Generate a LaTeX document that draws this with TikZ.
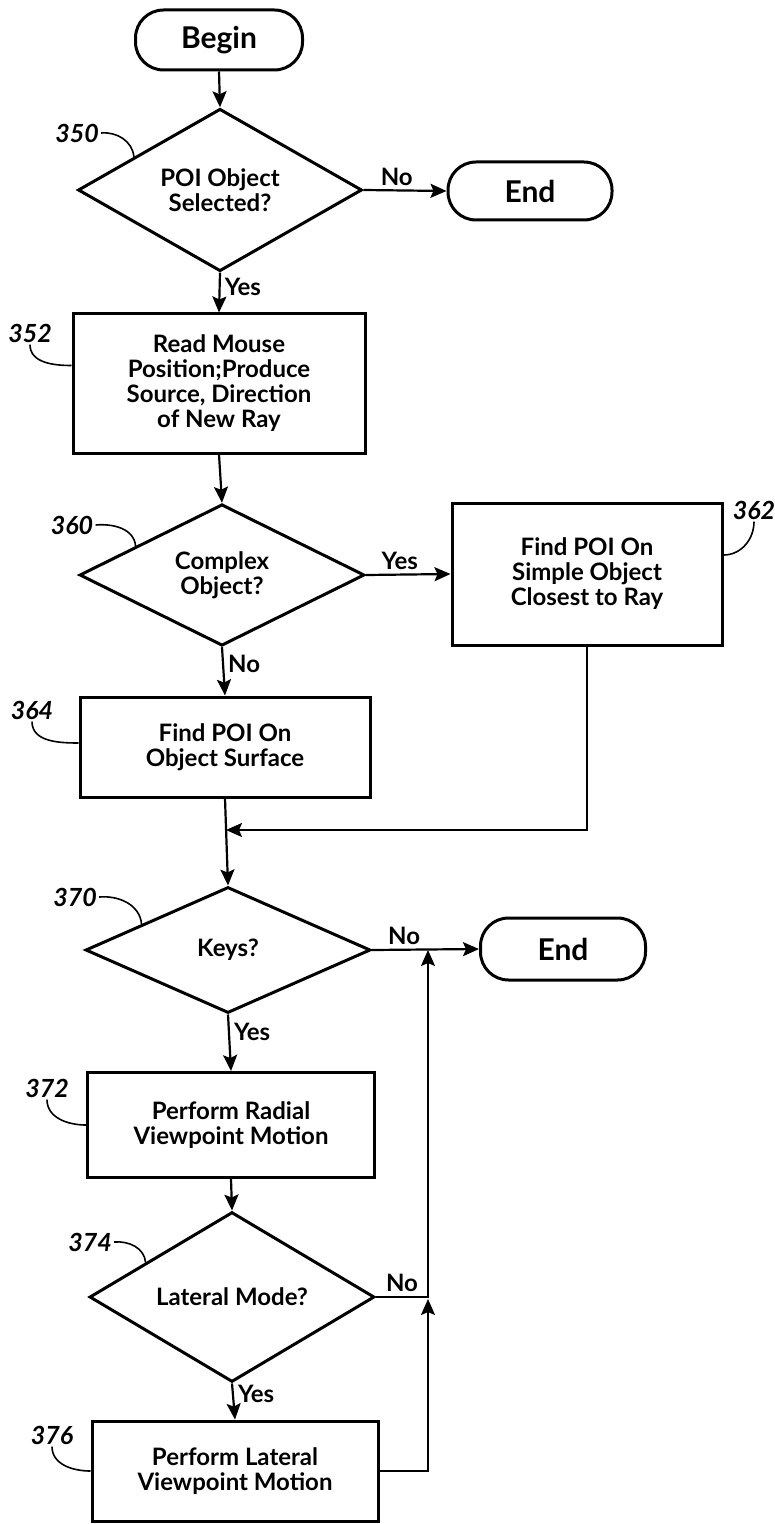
\documentclass[tikz,border=0pt]{standalone}
\usepackage{fontspec}
\setmainfont{Lato}
\usetikzlibrary{shapes.geometric,arrows.meta,calc}

\begin{document}
\begin{tikzpicture}[x=0.5pt,y=-0.5pt,
  txt/.style={font=\bfseries\fontsize{12}{12.5}\selectfont},
  box/.style={txt,draw,line width=1.5pt,rectangle,align=center,inner sep=0pt},
  dec/.style={txt,draw,line width=1.5pt,diamond,align=center,inner sep=0pt},
  term/.style={draw,line width=1.5pt,rectangle,rounded corners=14pt,inner sep=0pt,
    font=\bfseries\fontsize{15}{16}\selectfont},
  num/.style={font=\bfseries\itshape\fontsize{12.5}{13}\selectfont,inner sep=1pt},
  arr/.style={line width=1.1pt,-{Stealth[length=8pt,width=7pt,inset=1.5pt]}},
  lead/.style={line width=.8pt},
  yn/.style={txt,inner sep=2pt}]
\useasboundingbox (0,0) rectangle (775,1524);

% terminals
\node[term,minimum width=83.5pt,minimum height=30pt] (begin) at (219,40) {Begin};
\node[term,minimum width=82pt,minimum height=29pt] (end1) at (530,191) {End};
\node[term,minimum width=82.5pt,minimum height=31pt] (end2) at (563,949) {End};

% decisions
\node[dec,minimum width=142pt,minimum height=62pt] (d350) at (220,190) {POI Object\\Selected?};
\node[dec,minimum width=142.5pt,minimum height=63pt] (d360) at (222,575) {Complex\\Object?};
\node[dec,minimum width=142.5pt,minimum height=63pt] (d370) at (228,950) {Keys?};
\node[dec,minimum width=142.5pt,minimum height=62.5pt] (d374) at (232,1297) {Lateral Mode?};

% process boxes
\node[box,minimum width=146pt,minimum height=69.5pt] (b352) at (219,383.5)
  {Read Mouse\\Position;Produce\\Source, Direction\\of New Ray};
\node[box,minimum width=135pt,minimum height=71pt] (b362) at (587,574)
  {Find POI On\\Simple Object\\Closest to Ray};
\node[box,minimum width=145pt,minimum height=50pt] (b364) at (225,747)
  {Find POI On\\Object Surface};
\node[box,minimum width=143.5pt,minimum height=52.5pt] (b372) at (231,1125)
  {Perform Radial\\Viewpoint Motion};
\node[box,minimum width=143pt,minimum height=50pt] (b376) at (235,1471)
  {Perform Lateral\\Viewpoint Motion};

% reference numerals
\node[num] (l350) at (77,133) {350};
\node[num] (l352) at (30,333) {352};
\node[num] (l360) at (72,525) {360};
\node[num] (l362) at (754,510) {362};
\node[num] (l364) at (32,710) {364};
\node[num] (l370) at (75,897) {370};
\node[num] (l372) at (47,1088) {372};
\node[num] (l374) at (90,1242) {374};
\node[num] (l376) at (52,1435) {376};

\coordinate (m1) at (226,830);
\coordinate (j1) at (428,950);
\coordinate (j2) at (428,1299);

% flow
\draw[arr] (begin.south) -- (d350.north);
\draw[arr] (d350.east) -- node[yn,above,pos=.4] {No} (end1.west);
\draw[arr] (d350.south) -- node[yn,right,pos=.35] {Yes} (b352.north);
\draw[arr] (b352.south) -- (d360.north);
\draw[arr] (d360.east) -- node[yn,above,pos=.4] {Yes} (b362.west);
\draw[arr] (d360.south) -- node[yn,right,pos=.35] {No} (b364.north);
\draw[arr] (b364.south) -- (d370.north);
\draw[arr] (b362.south) |- (m1);
\draw[arr] (d370.east) -- node[yn,above,pos=.3] {No} (end2.west);
\draw[arr] (d370.south) -- node[yn,right,pos=.3] {Yes} (b372.north);
\draw[arr] (b372.south) -- (d374.north);
\draw[arr] (d374.south) -- node[yn,right,pos=.3] {Yes} (b376.north);
\draw[arr] (d374.east) -| node[yn,above,pos=.25] {No} (j1);
\draw[arr] (b376.east) -| (j2);

% leaders
\draw[lead] (l350.east) to[out=5,in=95] ($(d350.west)!.4!(d350.north)$);
\draw[lead] (l360.east) to[out=5,in=95] ($(d360.west)!.4!(d360.north)$);
\draw[lead] (l370.east) to[out=5,in=95] ($(d370.west)!.4!(d370.north)$);
\draw[lead] (l374.east) to[out=5,in=95] ($(d374.west)!.4!(d374.north)$);
\draw[lead] (l352.south) to[out=-90,in=180] ([yshift=9pt]b352.west);
\draw[lead] (l364.south) to[out=-90,in=180] ([yshift=2pt]b364.west);
\draw[lead] (l372.south) to[out=-90,in=180] (b372.west);
\draw[lead] (l376.south) to[out=-90,in=180] (b376.west);
\draw[lead] ([yshift=9.5pt]b362.east) to[out=0,in=-90] (l362.south);
\end{tikzpicture}
\end{document}
